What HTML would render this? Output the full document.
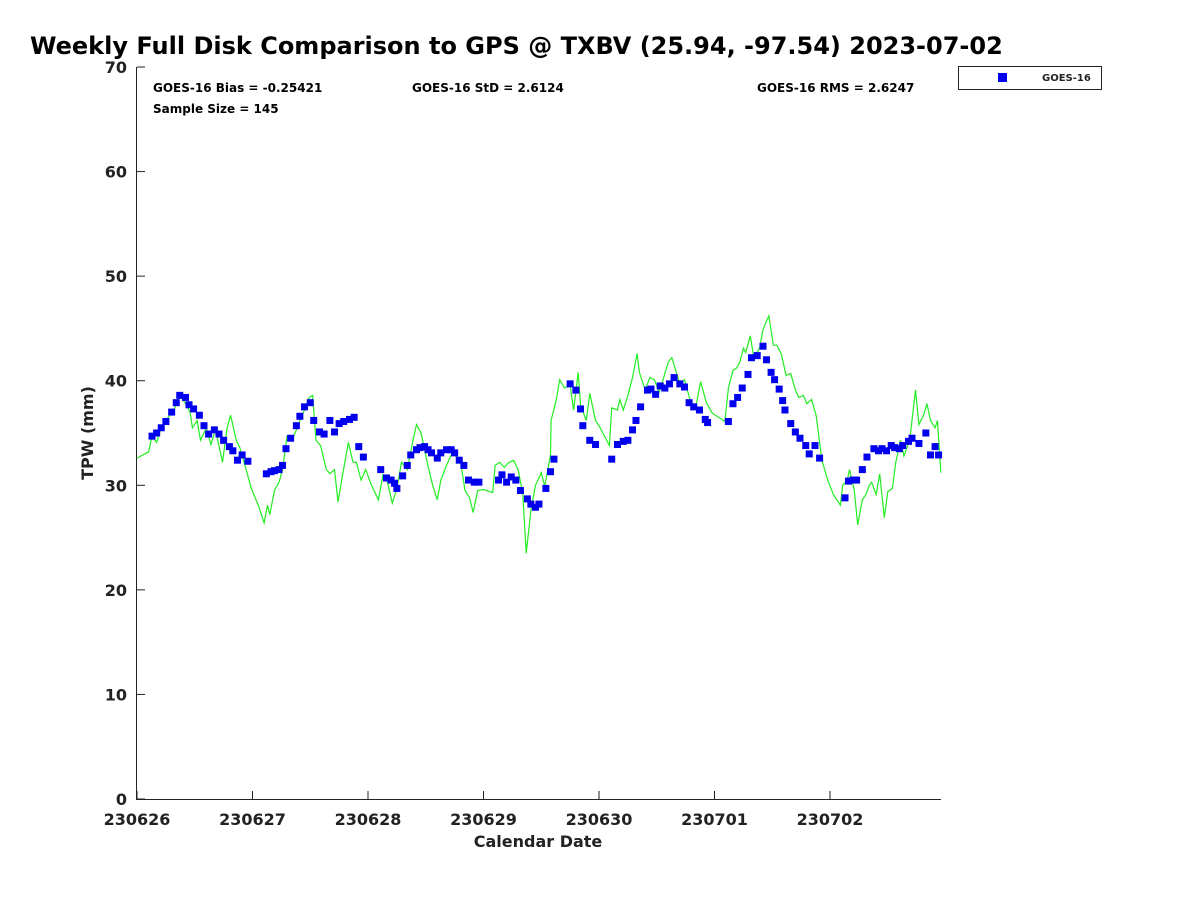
<!DOCTYPE html>
<html><head><meta charset="utf-8"><style>
body{margin:0;background:#fff;width:1200px;height:900px;overflow:hidden;font-family:"Liberation Sans","DejaVu Sans",sans-serif}
text{font-family:"DejaVu Sans","Liberation Sans",sans-serif;font-weight:bold;fill:#222}
</style></head><body>
<svg id="chart" width="1200" height="900" xmlns="http://www.w3.org/2000/svg">
<text x="30" y="54" font-size="24" style="fill:#000">Weekly Full Disk Comparison to GPS @ TXBV (25.94, -97.54) 2023-07-02</text>
<text x="153" y="92" font-size="12" style="fill:#000">GOES-16 Bias = -0.25421</text>
<text x="412" y="92" font-size="12" style="fill:#000">GOES-16 StD = 2.6124</text>
<text x="757" y="92" font-size="12" style="fill:#000">GOES-16 RMS = 2.6247</text>
<text x="153" y="113" font-size="12" style="fill:#000">Sample Size = 145</text>
<g>
<rect x="958.5" y="66.5" width="143" height="23" fill="#fff" stroke="#222"/>
<rect x="998" y="73" width="9" height="9" fill="#0000ee"/>
<text x="1042" y="81" font-size="10">GOES-16</text>
</g>
<text transform="translate(93,433) rotate(-90)" text-anchor="middle" font-size="16">TPW (mm)</text>
<text x="538" y="847" text-anchor="middle" font-size="16">Calendar Date</text>
<g id="axes"></g>
<g id="marks"></g>
</svg>
<script>
const xTickLabels=["230626","230627","230628","230629","230630","230701","230702"];
const yTickLabels=[0,10,20,30,40,50,60,70];
const gpsDays=[0,.10,.13,.17,.21,.25,.29,.32,.37,.42,.46,.48,.52,.55,.60,.64,.68,.74,.78,.81,.86,.89,.94,.99,1.05,1.10,1.13,1.15,1.19,1.23,1.26,1.30,1.34,1.38,1.41,1.45,1.49,1.52,1.55,1.59,1.64,1.67,1.71,1.74,1.78,1.83,1.87,1.90,1.94,1.98,2.03,2.09,2.13,2.16,2.21,2.25,2.29,2.34,2.39,2.42,2.46,2.52,2.56,2.60,2.63,2.68,2.72,2.75,2.80,2.84,2.88,2.91,2.95,3.00,3.08,3.10,3.14,3.18,3.21,3.26,3.30,3.34,3.37,3.41,3.45,3.50,3.53,3.58,3.585,3.63,3.66,3.70,3.75,3.78,3.82,3.84,3.89,3.92,3.97,4.01,4.09,4.11,4.16,4.18,4.21,4.25,4.29,4.33,4.35,4.40,4.44,4.48,4.52,4.56,4.60,4.63,4.67,4.70,4.74,4.80,4.84,4.88,4.93,4.98,5.09,5.12,5.16,5.19,5.22,5.25,5.27,5.31,5.34,5.39,5.42,5.47,5.51,5.54,5.58,5.62,5.66,5.70,5.73,5.77,5.80,5.84,5.88,5.93,5.98,6.03,6.09,6.11,6.15,6.17,6.21,6.24,6.28,6.31,6.34,6.36,6.40,6.43,6.47,6.50,6.54,6.57,6.61,6.64,6.69,6.74,6.77,6.81,6.84,6.87,6.91,6.93,6.96];
const gpsValues=[32.6,33.2,34.7,34.1,35.5,36.2,36.8,37.2,38.6,37.8,37.0,35.5,36.2,34.3,35.5,33.9,35.3,32.2,35.5,36.7,34.3,33.6,31.7,29.7,28.1,26.4,28.1,27.2,29.5,30.3,31.5,34.7,34.3,35.3,36.2,37.2,38.4,38.6,34.3,33.8,31.5,31.1,31.5,28.4,31.0,34.1,32.2,32.2,30.5,31.5,30.0,28.6,31.0,30.7,28.3,29.7,32.2,31.5,34.3,35.8,35.0,31.8,30.0,28.6,30.5,31.9,32.9,32.9,32.4,29.5,28.8,27.4,29.5,29.6,29.3,31.9,32.2,31.7,32.1,32.4,31.5,29.2,23.5,27.6,30.0,31.2,29.9,32.9,36.2,38.2,40.1,39.3,39.6,37.2,40.8,37.7,36.2,38.8,36.2,35.5,33.8,37.4,37.2,38.2,37.2,38.6,40.3,42.6,40.8,39.1,40.3,40.1,38.9,40.3,41.8,42.2,40.8,39.7,40.1,37.7,37.6,39.9,37.9,36.9,36.1,39.3,41.0,41.2,41.8,43.1,42.7,44.3,42.2,43.1,44.9,46.2,43.4,43.4,42.5,40.5,40.7,39.1,38.4,38.6,37.8,38.2,36.7,32.4,30.5,29.1,28.1,30.0,30.5,31.5,29.5,26.2,28.6,29.1,30.0,30.3,29.1,31.1,26.9,29.4,29.7,32.2,34.3,32.8,34.3,39.1,35.8,36.7,37.8,36.2,35.5,36.2,31.2];
const goesDays=[.13,.17,.21,.25,.30,.34,.37,.42,.45,.49,.54,.58,.62,.67,.71,.75,.80,.83,.87,.91,.96,1.12,1.16,1.19,1.23,1.26,1.29,1.33,1.38,1.41,1.45,1.50,1.53,1.58,1.62,1.67,1.71,1.75,1.79,1.84,1.88,1.92,1.96,2.11,2.16,2.20,2.23,2.25,2.30,2.34,2.37,2.42,2.45,2.49,2.52,2.55,2.60,2.63,2.68,2.72,2.75,2.79,2.83,2.87,2.92,2.96,3.13,3.16,3.20,3.24,3.28,3.32,3.38,3.41,3.45,3.48,3.54,3.58,3.61,3.75,3.80,3.84,3.86,3.92,3.97,4.11,4.16,4.21,4.25,4.29,4.32,4.36,4.42,4.45,4.49,4.53,4.57,4.61,4.65,4.70,4.74,4.78,4.82,4.87,4.92,4.94,5.12,5.16,5.20,5.24,5.29,5.32,5.37,5.42,5.45,5.49,5.52,5.56,5.59,5.61,5.66,5.70,5.74,5.79,5.82,5.87,5.91,6.13,6.16,6.20,6.23,6.28,6.32,6.38,6.42,6.45,6.49,6.53,6.56,6.60,6.63,6.68,6.71,6.77,6.83,6.87,6.91,6.94];
const goesValues=[34.7,35.0,35.5,36.1,37.0,37.9,38.6,38.4,37.7,37.3,36.7,35.7,34.9,35.3,34.9,34.3,33.7,33.3,32.4,32.9,32.3,31.1,31.3,31.4,31.5,31.9,33.5,34.5,35.7,36.6,37.5,37.9,36.2,35.1,34.9,36.2,35.1,35.9,36.1,36.3,36.5,33.7,32.7,31.5,30.7,30.5,30.2,29.7,30.9,31.9,32.9,33.4,33.6,33.7,33.4,33.1,32.6,33.1,33.4,33.4,33.1,32.4,31.9,30.5,30.3,30.3,30.5,31.0,30.3,30.8,30.5,29.5,28.7,28.2,27.9,28.2,29.7,31.3,32.5,39.7,39.1,37.3,35.7,34.3,33.9,32.5,33.9,34.2,34.3,35.3,36.2,37.5,39.1,39.2,38.7,39.5,39.3,39.7,40.3,39.7,39.4,37.9,37.5,37.2,36.3,36.0,36.1,37.8,38.4,39.3,40.6,42.2,42.4,43.3,42.0,40.8,40.1,39.2,38.1,37.2,35.9,35.1,34.5,33.8,33.0,33.8,32.6,28.8,30.4,30.5,30.5,31.5,32.7,33.5,33.3,33.5,33.3,33.8,33.6,33.5,33.8,34.2,34.5,34.0,35.0,32.9,33.7,32.9];
const NS='http://www.w3.org/2000/svg';
const X0=137,DAY=115.5,Y0=799,UNIT=10.457;
const xs=d=>X0+d*DAY, ys=v=>Y0-v*UNIT;
const axes=document.getElementById('axes'), marks=document.getElementById('marks');
function mk(tag,attrs,parent){const e=document.createElementNS(NS,tag);for(const k in attrs)e.setAttribute(k,attrs[k]);parent.appendChild(e);return e;}
const yl=mk('line',{x1:136.5,y1:67,x2:136.5,y2:800,stroke:'#222'},axes);


const xl=mk('line',{x1:136,y1:799.5,x2:941,y2:799.5,stroke:'#222'},axes);


yTickLabels.forEach(v=>{const y=ys(v);
mk('line',{x1:137,y1:y,x2:145,y2:y,stroke:'#222'},axes);
const t=mk('text',{x:127,y:y+6,'text-anchor':'end','font-size':16},axes);t.textContent=v;

});
xTickLabels.forEach((l,i)=>{const x=xs(i);
mk('line',{x1:x,y1:799,x2:x,y2:791,stroke:'#222'},axes);
const t=mk('text',{x:x,y:825,'text-anchor':'middle','font-size':16},axes);t.textContent=l;

});
const pts=gpsDays.map((d,i)=>xs(d).toFixed(1)+','+ys(gpsValues[i]).toFixed(1)).join(' ');
const pl=mk('polyline',{points:pts,fill:'none',stroke:'#22ee22','stroke-width':1.2},marks);


goesDays.forEach((d,i)=>{const r=mk('rect',{x:xs(d)-3.5,y:ys(goesValues[i])-3.5,width:7,height:7,fill:'#0000ee'},marks);

});
</script>
</body></html>
